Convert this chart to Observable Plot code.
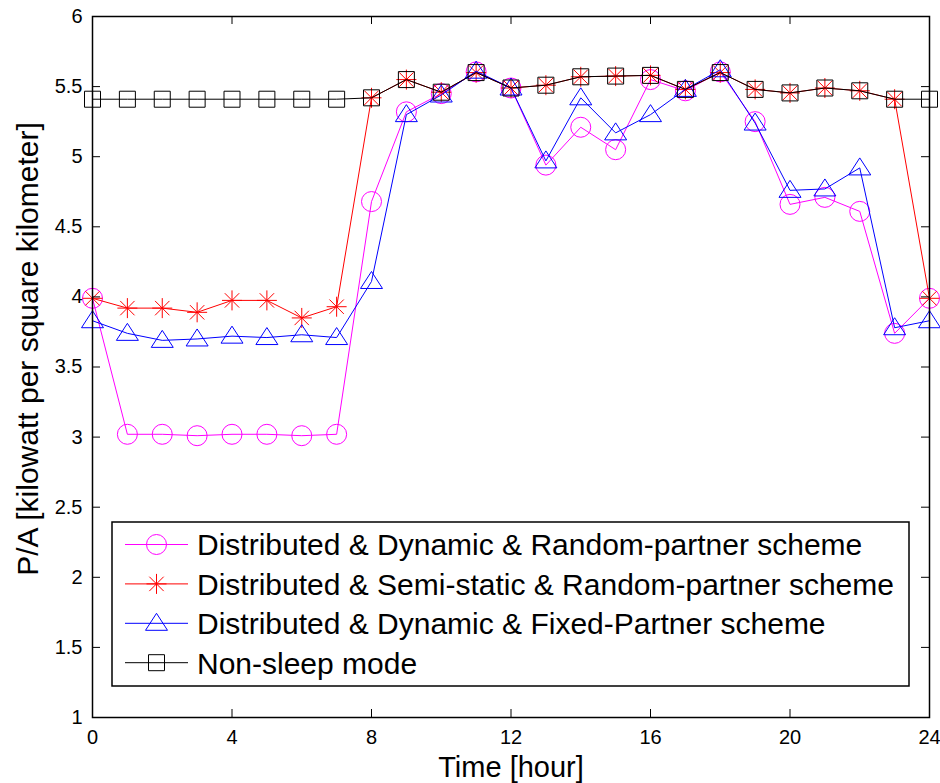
<!DOCTYPE html>
<html><head><meta charset="utf-8">
<script src="https://cdn.jsdelivr.net/npm/d3@7"></script>
<script src="https://cdn.jsdelivr.net/npm/@observablehq/plot@0.6"></script>
<style>
body{margin:0;background:#fff}
#chart{position:relative;width:940px;height:783px}
#chart svg{display:block}
</style>
</head><body><div id="chart"></div>
<script>
// ---- data ----
const hours = [0,1,2,3,4,5,6,7,8,9,10,11,12,13,14,15,16,17,18,19,20,21,22,23,24];
const dynRandom   = [3.99,3.02,3.02,3.01,3.02,3.02,3.01,3.02,4.68,5.32,5.45,5.605,5.49,4.94,5.21,5.05,5.55,5.47,5.605,5.25,4.66,4.71,4.61,3.74,3.99];
const semiStatic  = [3.99,3.92,3.92,3.89,3.975,3.975,3.85,3.93,5.42,5.55,5.46,5.60,5.49,5.51,5.57,5.575,5.58,5.48,5.60,5.48,5.455,5.49,5.47,5.41,3.99];
const fixedPartner= [3.83,3.74,3.69,3.70,3.72,3.71,3.73,3.71,4.11,5.30,5.44,5.61,5.49,4.97,5.42,5.17,5.30,5.48,5.62,5.24,4.76,4.77,4.92,3.78,3.83];
const nonSleep    = [5.41,5.41,5.41,5.41,5.41,5.41,5.41,5.41,5.42,5.55,5.46,5.60,5.49,5.51,5.57,5.575,5.58,5.48,5.60,5.48,5.455,5.49,5.47,5.41,5.41];
const seriesNames = [
  "Distributed & Dynamic & Random-partner scheme",
  "Distributed & Semi-static & Random-partner scheme",
  "Distributed & Dynamic & Fixed-Partner scheme",
  "Non-sleep mode"
];
const seriesColors = ["#ff00ff","#ff0000","#0000ff","#000000"];
const xTicks = [0,4,8,12,16,20,24];
const yTicks = [1,1.5,2,2.5,3,3.5,4,4.5,5,5.5,6];
const xLabel = "Time [hour]";
const yLabel = "P/A [kilowatt per square kilometer]";

// ---- marker symbols (MATLAB style) ----
const symStar = {draw(ctx, size){const r=Math.sqrt(size/Math.PI), d=r*0.72;
  ctx.moveTo(-r,0);ctx.lineTo(r,0);ctx.moveTo(0,-r);ctx.lineTo(0,r);
  ctx.moveTo(-d,-d);ctx.lineTo(d,d);ctx.moveTo(-d,d);ctx.lineTo(d,-d);}};
const symTri = {draw(ctx, size){const r=Math.sqrt(size/Math.PI);
  ctx.moveTo(0,-r);ctx.lineTo(1.1*r,0.7*r);ctx.lineTo(-1.1*r,0.7*r);ctx.closePath();}};
const symSquare = {draw(ctx, size){const r=Math.sqrt(size/Math.PI), s=0.8*r;
  ctx.moveTo(-s,-s);ctx.lineTo(s,-s);ctx.lineTo(s,s);ctx.lineTo(-s,s);ctx.closePath();}};
const symbols = [d3.symbolCircle, symStar, symTri, symSquare];
const seriesValues = [dynRandom, semiStatic, fixedPartner, nonSleep];

const W = 940, H = 783, mL = 92, mR = 11, mT = 16, mB = 66;
const plotW = W - mL - mR, plotH = H - mT - mB;
const FONT = "'Liberation Sans', Arial, sans-serif";

const seriesMarks = seriesNames.flatMap((name, k) => {
  const rows = hours.map((h, i) => ({hour: h, value: seriesValues[k][i], series: name}));
  return [
    Plot.line(rows, {x: "hour", y: "value", stroke: seriesColors[k], strokeWidth: 1}),
    Plot.dot(rows, {x: "hour", y: "value", r: 10, symbol: symbols[k], stroke: seriesColors[k], fill: "none", strokeWidth: 1})
  ];
});

const chart = Plot.plot({
  width: W, height: H,
  marginLeft: mL, marginRight: mR, marginTop: mT, marginBottom: mB,
  style: {fontFamily: FONT, fontSize: "20px", color: "black", background: "white"},
  x: {domain: [0, 24]},
  y: {domain: [1, 6]},
  marks: [
    ...seriesMarks,
    Plot.frame({stroke: "black", strokeWidth: 1.5}),
    Plot.ruleX(xTicks, {x: d => d, insetTop: plotH - 8, stroke: "black"}),
    Plot.ruleX(xTicks, {x: d => d, insetBottom: plotH - 8, stroke: "black"}),
    Plot.ruleY(yTicks, {y: d => d, insetRight: plotW - 8, stroke: "black"}),
    Plot.ruleY(yTicks, {y: d => d, insetLeft: plotW - 8, stroke: "black"}),
    Plot.axisX({ticks: xTicks, tickSize: 0, tickPadding: 12, fontSize: 20, label: null, tickFormat: d => String(d)}),
    Plot.axisY({ticks: yTicks, tickSize: 0, tickPadding: 10, fontSize: 20, label: null, tickFormat: d => String(d)}),
    Plot.text([xLabel], {text: d => d, frameAnchor: "bottom", textAnchor: "middle", lineAnchor: "middle", dy: 50, fontSize: 29}),
    Plot.text([yLabel], {text: d => d, frameAnchor: "left", textAnchor: "middle", lineAnchor: "middle", rotate: -90, dx: -64.5, dy: -18, fontSize: 30})
  ]
});
const host = document.getElementById("chart");
host.appendChild(chart);

// ---- legend overlay ----
const lg = d3.create("svg").attr("width", W).attr("height", H)
  .style("position", "absolute").style("left", "0px").style("top", "0px");
lg.append("rect").attr("x", 112).attr("y", 522).attr("width", 797).attr("height", 164)
  .attr("fill", "white").attr("stroke", "black").attr("stroke-width", 1.5);
seriesNames.forEach((name, k) => {
  const cy = 544.5 + k * 39.4;
  lg.append("line").attr("x1", 125).attr("x2", 188).attr("y1", cy).attr("y2", cy)
    .attr("stroke", seriesColors[k]).attr("stroke-width", 1);
  lg.append("path").attr("transform", `translate(156.5,${cy})`)
    .attr("d", d3.symbol(symbols[k], 100 * Math.PI)())
    .attr("fill", "none").attr("stroke", seriesColors[k]).attr("stroke-width", 1);
  lg.append("text").attr("x", 197).attr("y", cy).attr("dy", "0.36em")
    .attr("font-family", FONT).attr("font-size", 30).attr("fill", "black").text(name);
});
host.appendChild(lg.node());
</script>
</body></html>
